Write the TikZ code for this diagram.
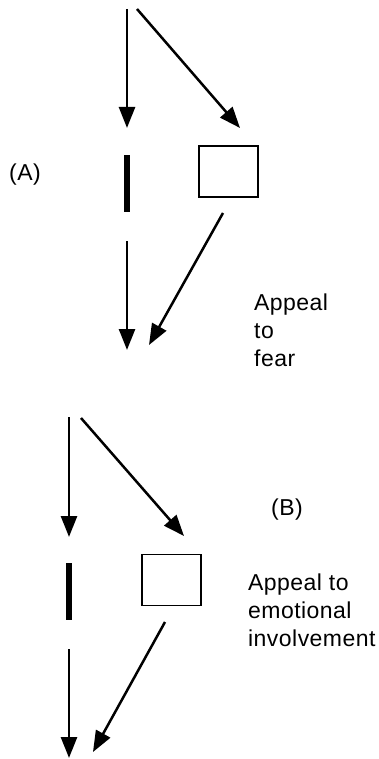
\documentclass[tikz,border=0pt]{standalone}
\usepackage{fontspec}
\setmainfont[LetterSpace=2]{Liberation Sans}
\usetikzlibrary{arrows.meta}
\begin{document}
\begin{tikzpicture}[x=1pt,y=-1pt,
  arr/.style={line width=2.5pt,-{Triangle[length=21pt,width=16pt]}},
  barnode/.style={fill=black,inner sep=0pt,minimum width=6.5pt,minimum height=57pt},
  boxnode/.style={draw,line width=1.3pt,inner sep=0pt,minimum width=59pt,minimum height=51pt},
  lbl/.style={font=\fontsize{23pt}{28pt}\selectfont,inner sep=0pt,align=left,anchor=base west}]
\useasboundingbox (0,0) rectangle (379,759);
% --- (A) ---
\coordinate (a1s) at (127,9);
\coordinate (a1e) at (127,128);
\coordinate (a2s) at (137,9);
\coordinate (a2e) at (240,128);
\node[barnode] (abar) at (127,183.5) {};
\node[boxnode] (abox) at (228.5,171.5) {};
\coordinate (a3s) at (127,241);
\coordinate (a3e) at (127,350);
\coordinate (a4s) at (223,213);
\coordinate (a4e) at (149,345);
\draw[arr] (a1s) -- (a1e);
\draw[arr] (a2s) -- (a2e);
\draw[arr] (a3s) -- (a3e);
\draw[arr] (a4s) -- (a4e);
\node[lbl] (alab) at (9,181) {(A)};
\node[lbl] (atxt) at (254,366) {Appeal\\to\\fear};
% --- (B) ---
\coordinate (b1s) at (69,417);
\coordinate (b1e) at (69,537);
\coordinate (b2s) at (81,418);
\coordinate (b2e) at (184,536);
\node[barnode] (bbar) at (69,591.5) {};
\node[boxnode] (bbox) at (171.5,580) {};
\coordinate (b3s) at (69,649);
\coordinate (b3e) at (69,758);
\coordinate (b4s) at (165,622);
\coordinate (b4e) at (93,752);
\draw[arr] (b1s) -- (b1e);
\draw[arr] (b2s) -- (b2e);
\draw[arr] (b3s) -- (b3e);
\draw[arr] (b4s) -- (b4e);
\node[lbl] (blab) at (271,515) {(B)};
\node[lbl] (btxt) at (248,646) {Appeal to\\emotional\\involvement};
\end{tikzpicture}
\end{document}
